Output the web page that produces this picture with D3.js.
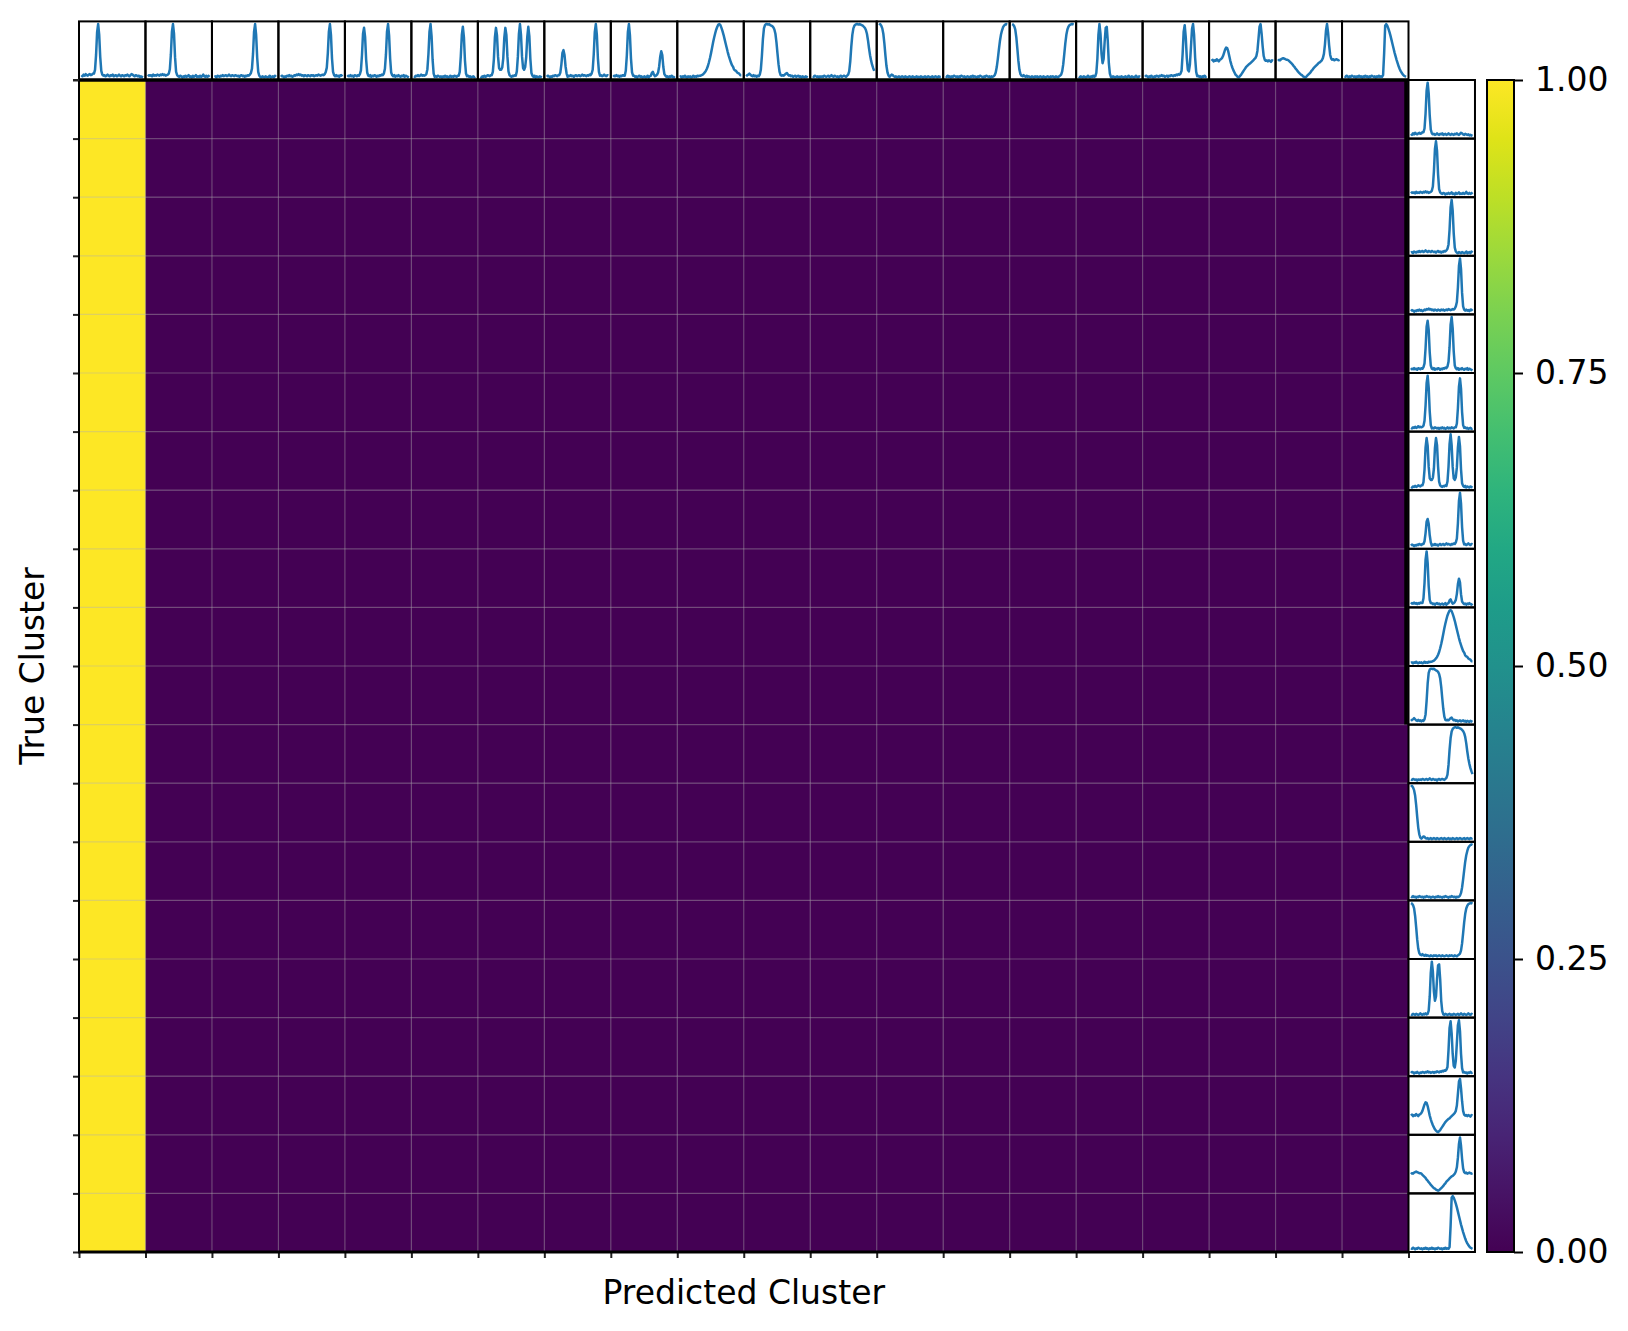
<!DOCTYPE html>
<html><head><meta charset="utf-8">
<script src="https://cdn.jsdelivr.net/npm/d3@7"></script>
<style>body{margin:0;background:#fff;} svg{display:block;font-family:"DejaVu Sans",sans-serif;}</style>
</head><body><svg id="c" width="1628" height="1331"></svg>
<script>
// ---------- data ----------
const clusters = [0,1,2,3,4,5,6,7,8,9,10,11,12,13,14,15,16,17,18,19];
const xLabel = "Predicted Cluster";
const yLabel = "True Cluster";
const colorbarTicks = [0, 0.25, 0.5, 0.75, 1.0];

// row = true cluster, column = predicted cluster (fraction)
const confusion = [
 [1,0,0,0,0,0,0,0,0,0,0,0,0,0,0,0,0,0,0,0],
 [1,0,0,0,0,0,0,0,0,0,0,0,0,0,0,0,0,0,0,0],
 [1,0,0,0,0,0,0,0,0,0,0,0,0,0,0,0,0,0,0,0],
 [1,0,0,0,0,0,0,0,0,0,0,0,0,0,0,0,0,0,0,0],
 [1,0,0,0,0,0,0,0,0,0,0,0,0,0,0,0,0,0,0,0],
 [1,0,0,0,0,0,0,0,0,0,0,0,0,0,0,0,0,0,0,0],
 [1,0,0,0,0,0,0,0,0,0,0,0,0,0,0,0,0,0,0,0],
 [1,0,0,0,0,0,0,0,0,0,0,0,0,0,0,0,0,0,0,0],
 [1,0,0,0,0,0,0,0,0,0,0,0,0,0,0,0,0,0,0,0],
 [1,0,0,0,0,0,0,0,0,0,0,0,0,0,0,0,0,0,0,0],
 [1,0,0,0,0,0,0,0,0,0,0,0,0,0,0,0,0,0,0,0],
 [1,0,0,0,0,0,0,0,0,0,0,0,0,0,0,0,0,0,0,0],
 [1,0,0,0,0,0,0,0,0,0,0,0,0,0,0,0,0,0,0,0],
 [1,0,0,0,0,0,0,0,0,0,0,0,0,0,0,0,0,0,0,0],
 [1,0,0,0,0,0,0,0,0,0,0,0,0,0,0,0,0,0,0,0],
 [1,0,0,0,0,0,0,0,0,0,0,0,0,0,0,0,0,0,0,0],
 [1,0,0,0,0,0,0,0,0,0,0,0,0,0,0,0,0,0,0,0],
 [1,0,0,0,0,0,0,0,0,0,0,0,0,0,0,0,0,0,0,0],
 [1,0,0,0,0,0,0,0,0,0,0,0,0,0,0,0,0,0,0,0],
 [1,0,0,0,0,0,0,0,0,0,0,0,0,0,0,0,0,0,0,0]
];

// cluster profile signals (same profile shown for predicted columns and true rows)
const profile01 = [
 0.04,0.02,0.05,0.03,0.06,0.04,0.03,0.05,0.06,0.04,
 0.05,0.07,0.07,0.14,0.42,0.85,1.00,0.80,0.38,0.12,
 0.05,0.03,0.04,0.02,0.03,0.05,0.03,0.02,0.04,0.03,
 0.05,0.02,0.03,0.04,0.02,0.03,0.05,0.03,0.02,0.04,
 0.03,0.02,0.04,0.03,0.05,0.03,0.02,0.04,0.06,0.05,
 0.03,0.02,0.04,0.03,0.02,0.03,0.01,0.02,0.01,0.00];
const profile02 = [
 0.03,0.05,0.04,0.05,0.03,0.06,0.04,0.05,0.04,0.06,
 0.05,0.04,0.06,0.05,0.07,0.05,0.06,0.04,0.05,0.06,
 0.08,0.16,0.44,0.86,1.00,0.82,0.38,0.11,0.05,0.03,
 0.02,0.04,0.03,0.01,0.03,0.02,0.04,0.02,0.03,0.05,
 0.02,0.03,0.01,0.04,0.02,0.03,0.05,0.02,0.03,0.02,
 0.04,0.02,0.03,0.06,0.03,0.02,0.04,0.02,0.03,0.05];
const profile03 = [
 0.03,0.04,0.02,0.05,0.04,0.03,0.05,0.04,0.06,0.04,
 0.05,0.06,0.04,0.05,0.07,0.05,0.04,0.06,0.05,0.04,
 0.06,0.05,0.04,0.05,0.03,0.05,0.06,0.04,0.05,0.03,
 0.05,0.04,0.06,0.05,0.07,0.10,0.18,0.45,0.86,1.00,
 0.80,0.38,0.12,0.05,0.03,0.02,0.04,0.03,0.02,0.04,
 0.03,0.02,0.03,0.05,0.02,0.03,0.04,0.02,0.05,0.03];
const profile04 = [
 0.02,0.04,0.03,0.01,0.03,0.02,0.04,0.03,0.05,0.03,
 0.04,0.02,0.03,0.05,0.04,0.06,0.05,0.07,0.05,0.06,
 0.04,0.05,0.03,0.05,0.04,0.03,0.05,0.04,0.03,0.05,
 0.04,0.05,0.03,0.04,0.05,0.04,0.06,0.05,0.04,0.05,
 0.06,0.05,0.07,0.11,0.19,0.46,0.86,1.00,0.80,0.36,
 0.11,0.05,0.03,0.05,0.03,0.04,0.02,0.05,0.04,0.06];
const profile05 = [
 0.02,0.04,0.03,0.05,0.03,0.04,0.02,0.05,0.04,0.03,
 0.05,0.04,0.07,0.14,0.42,0.82,0.93,0.76,0.34,0.10,
 0.04,0.03,0.05,0.02,0.04,0.03,0.05,0.04,0.02,0.04,
 0.03,0.05,0.04,0.06,0.05,0.08,0.17,0.44,0.86,1.00,
 0.79,0.36,0.10,0.05,0.03,0.05,0.02,0.04,0.03,0.05,
 0.03,0.02,0.04,0.03,0.05,0.02,0.04,0.03,0.02,0.01];
const profile06 = [
 0.04,0.03,0.05,0.04,0.06,0.04,0.05,0.07,0.05,0.06,
 0.05,0.06,0.08,0.17,0.45,0.86,1.00,0.78,0.34,0.09,
 0.03,0.04,0.03,0.05,0.04,0.03,0.04,0.02,0.04,0.03,
 0.05,0.03,0.04,0.02,0.03,0.05,0.03,0.04,0.03,0.05,
 0.04,0.03,0.05,0.05,0.12,0.40,0.80,0.95,0.76,0.33,
 0.09,0.04,0.05,0.03,0.04,0.02,0.03,0.04,0.02,0.03];
const profile07 = [
 0.03,0.02,0.04,0.03,0.05,0.03,0.04,0.06,0.05,0.04,
 0.06,0.06,0.12,0.35,0.76,0.93,0.79,0.40,0.19,0.16,
 0.16,0.20,0.37,0.75,0.93,0.80,0.40,0.13,0.06,0.04,
 0.03,0.05,0.04,0.06,0.05,0.13,0.40,0.82,1.00,0.80,
 0.40,0.19,0.16,0.21,0.39,0.76,0.95,0.78,0.35,0.10,
 0.05,0.03,0.05,0.02,0.04,0.03,0.02,0.04,0.03,0.02];
const profile08 = [
 0.03,0.05,0.04,0.02,0.04,0.03,0.05,0.04,0.06,0.05,
 0.04,0.06,0.06,0.11,0.26,0.47,0.52,0.43,0.22,0.09,
 0.03,0.05,0.04,0.06,0.04,0.05,0.03,0.05,0.06,0.04,
 0.05,0.06,0.04,0.05,0.07,0.05,0.06,0.05,0.04,0.06,
 0.05,0.07,0.06,0.09,0.16,0.44,0.85,1.00,0.80,0.37,
 0.12,0.05,0.06,0.04,0.05,0.07,0.05,0.04,0.06,0.05];
const profile09 = [
 0.03,0.05,0.04,0.06,0.04,0.05,0.03,0.05,0.04,0.06,
 0.05,0.05,0.14,0.42,0.85,1.00,0.79,0.36,0.11,0.05,
 0.05,0.03,0.04,0.02,0.04,0.05,0.03,0.04,0.02,0.03,
 0.04,0.02,0.03,0.05,0.02,0.04,0.05,0.10,0.12,0.07,
 0.04,0.05,0.07,0.11,0.22,0.40,0.50,0.43,0.21,0.08,
 0.05,0.03,0.04,0.02,0.04,0.03,0.05,0.03,0.02,0.04];
const profile10 = [
 0.02,0.03,0.01,0.03,0.02,0.04,0.02,0.01,0.03,0.02,
 0.03,0.01,0.02,0.04,0.02,0.03,0.02,0.04,0.03,0.04,
 0.04,0.05,0.06,0.08,0.10,0.13,0.17,0.22,0.29,0.37,
 0.46,0.56,0.66,0.75,0.83,0.90,0.95,0.99,1.00,0.98,
 0.93,0.87,0.80,0.72,0.64,0.56,0.48,0.41,0.35,0.29,
 0.24,0.21,0.16,0.14,0.13,0.10,0.09,0.08,0.05,0.05];
const profile11 = [
 0.03,0.05,0.06,0.08,0.06,0.04,0.03,0.05,0.03,0.04,
 0.02,0.04,0.03,0.06,0.15,0.40,0.72,0.92,0.98,1.00,
 1.00,0.99,1.00,0.98,0.97,0.96,0.94,0.90,0.82,0.66,
 0.45,0.25,0.11,0.05,0.04,0.05,0.04,0.06,0.08,0.09,
 0.06,0.04,0.05,0.03,0.04,0.02,0.03,0.04,0.02,0.03,
 0.04,0.02,0.03,0.01,0.03,0.02,0.01,0.03,0.02,0.01];
const profile12 = [
 0.03,0.02,0.04,0.03,0.02,0.03,0.01,0.03,0.02,0.03,
 0.02,0.04,0.03,0.02,0.03,0.04,0.02,0.03,0.05,0.03,
 0.02,0.04,0.03,0.02,0.03,0.01,0.03,0.04,0.02,0.03,
 0.04,0.03,0.02,0.04,0.06,0.12,0.30,0.58,0.80,0.92,
 0.97,0.99,1.00,1.00,0.99,1.00,0.99,0.98,0.97,0.95,
 0.93,0.89,0.82,0.70,0.55,0.42,0.32,0.24,0.18,0.13];
const profile13 = [
 0.98,1.00,0.97,0.92,0.82,0.64,0.42,0.22,0.10,0.04,
 0.02,0.04,0.06,0.05,0.03,0.02,0.03,0.01,0.02,0.03,
 0.01,0.02,0.03,0.02,0.01,0.03,0.02,0.01,0.02,0.03,
 0.02,0.01,0.03,0.02,0.01,0.02,0.03,0.01,0.02,0.01,
 0.03,0.02,0.01,0.02,0.03,0.01,0.02,0.03,0.02,0.01,
 0.02,0.03,0.01,0.02,0.03,0.02,0.01,0.03,0.02,0.03];
const profile14 = [
 0.03,0.02,0.04,0.02,0.03,0.01,0.03,0.02,0.04,0.03,
 0.02,0.03,0.01,0.03,0.02,0.04,0.03,0.02,0.03,0.01,
 0.02,0.03,0.02,0.01,0.03,0.02,0.04,0.02,0.03,0.02,
 0.01,0.03,0.02,0.04,0.03,0.02,0.01,0.03,0.02,0.04,
 0.03,0.02,0.03,0.01,0.03,0.02,0.03,0.05,0.10,0.20,
 0.35,0.52,0.68,0.80,0.88,0.94,0.97,0.99,1.00,0.99];
const profile15 = [
 1.00,0.99,0.96,0.90,0.76,0.55,0.32,0.15,0.07,0.04,
 0.03,0.05,0.03,0.02,0.04,0.02,0.03,0.02,0.01,0.03,
 0.02,0.01,0.03,0.02,0.03,0.01,0.02,0.03,0.02,0.01,
 0.03,0.02,0.01,0.02,0.03,0.02,0.01,0.03,0.02,0.03,
 0.02,0.01,0.03,0.02,0.01,0.03,0.04,0.06,0.12,0.25,
 0.44,0.64,0.80,0.90,0.95,0.98,0.99,1.00,1.00,0.99];
const profile16 = [
 0.03,0.02,0.04,0.03,0.02,0.04,0.03,0.02,0.03,0.05,
 0.03,0.02,0.04,0.03,0.05,0.03,0.04,0.10,0.36,0.80,
 1.00,0.82,0.45,0.28,0.36,0.68,0.93,0.95,0.68,0.28,
 0.09,0.03,0.02,0.04,0.03,0.02,0.03,0.04,0.02,0.03,
 0.02,0.04,0.03,0.02,0.03,0.04,0.02,0.03,0.05,0.03,
 0.02,0.04,0.03,0.02,0.03,0.05,0.03,0.02,0.04,0.03];
const profile17 = [
 0.03,0.05,0.04,0.02,0.04,0.03,0.05,0.03,0.02,0.04,
 0.03,0.05,0.04,0.03,0.05,0.04,0.06,0.04,0.05,0.03,
 0.04,0.05,0.03,0.05,0.04,0.06,0.05,0.04,0.06,0.05,
 0.07,0.06,0.08,0.07,0.09,0.14,0.45,0.86,0.98,0.76,
 0.38,0.16,0.13,0.26,0.58,0.91,1.00,0.80,0.38,0.12,
 0.04,0.05,0.03,0.04,0.02,0.04,0.03,0.05,0.03,0.04];
const profile18 = [
 0.31,0.33,0.30,0.32,0.31,0.34,0.32,0.30,0.33,0.34,
 0.36,0.40,0.46,0.52,0.56,0.55,0.49,0.40,0.31,0.24,
 0.18,0.13,0.09,0.05,0.03,0.01,0.00,0.02,0.04,0.07,
 0.10,0.13,0.16,0.19,0.21,0.23,0.25,0.26,0.28,0.30,
 0.32,0.34,0.36,0.40,0.50,0.72,0.95,1.00,0.82,0.58,
 0.40,0.33,0.31,0.32,0.30,0.32,0.31,0.29,0.32,0.31];
const profile19 = [
 0.31,0.33,0.32,0.34,0.35,0.36,0.35,0.34,0.33,0.33,
 0.32,0.30,0.28,0.26,0.24,0.21,0.19,0.16,0.14,0.11,
 0.09,0.07,0.05,0.04,0.02,0.01,0.00,0.01,0.03,0.05,
 0.07,0.09,0.12,0.14,0.17,0.19,0.21,0.23,0.25,0.27,
 0.28,0.30,0.32,0.36,0.44,0.62,0.88,1.00,0.84,0.60,
 0.42,0.35,0.33,0.34,0.32,0.33,0.34,0.33,0.32,0.33];
const profile20 = [
 0.03,0.02,0.04,0.03,0.01,0.03,0.02,0.04,0.03,0.02,
 0.03,0.01,0.03,0.02,0.04,0.02,0.03,0.01,0.03,0.02,
 0.04,0.02,0.03,0.01,0.03,0.02,0.04,0.03,0.02,0.03,
 0.01,0.03,0.02,0.04,0.02,0.03,0.02,0.05,0.45,0.97,
 1.00,0.97,0.92,0.86,0.79,0.71,0.63,0.55,0.47,0.40,
 0.33,0.27,0.21,0.16,0.12,0.09,0.06,0.04,0.03,0.02];

const profiles = [profile01,profile02,profile03,profile04,profile05,profile06,profile07,
  profile08,profile09,profile10,profile11,profile12,profile13,profile14,profile15,
  profile16,profile17,profile18,profile19,profile20];

// ---------- layout ----------
const L = 79, R = 1408.5, T = 80, B = 1252;
const svg = d3.select("#c");

const x = d3.scaleBand().domain(clusters).range([L, R]);
const y = d3.scaleBand().domain(clusters).range([T, B]);
const xb = d3.scaleLinear().domain([0, clusters.length]).range([L, R]);
const yb = d3.scaleLinear().domain([0, clusters.length]).range([T, B]);
const color = d3.scaleSequential(d3.interpolateViridis).domain([0, 1]);

// heatmap cells
const cells = [];
confusion.forEach((row, i) => row.forEach((v, j) => cells.push({i, j, v})));
svg.append("g").selectAll("rect").data(cells).join("rect")
  .attr("x", d => x(clusters[d.j])).attr("y", d => y(clusters[d.i]))
  .attr("width", x.bandwidth() + 0.5).attr("height", y.bandwidth() + 0.5)
  .attr("fill", d => color(d.v));

// grid
const grid = svg.append("g").attr("stroke", "#b0b0b0").attr("stroke-opacity", 0.4).attr("stroke-width", 1.2);
d3.range(1, clusters.length).forEach(k => {
  grid.append("line").attr("x1", xb(k)).attr("x2", xb(k)).attr("y1", T).attr("y2", B);
  grid.append("line").attr("y1", yb(k)).attr("y2", yb(k)).attr("x1", L).attr("x2", R);
});

// axes (ticks only)
const ax = svg.append("g").attr("transform", `translate(0,${B})`)
  .call(d3.axisBottom(xb).tickValues(d3.range(clusters.length + 1)).tickSize(6).tickFormat(""));
const ay = svg.append("g").attr("transform", `translate(${L},0)`)
  .call(d3.axisLeft(yb).tickValues(d3.range(clusters.length + 1)).tickSize(6).tickFormat(""));
[ax, ay].forEach(a => {
  a.select(".domain").remove();
  a.selectAll(".tick line").attr("stroke", "#222").attr("stroke-width", 2);
});

// spines
const sp = svg.append("g").attr("stroke", "#000");
sp.append("line").attr("x1", L).attr("x2", L).attr("y1", T).attr("y2", B).attr("stroke-width", 2);
sp.append("line").attr("x1", L - 1).attr("x2", R).attr("y1", B).attr("y2", B).attr("stroke-width", 3);
sp.append("line").attr("x1", 1406).attr("x2", 1406).attr("y1", T).attr("y2", yb(11)).attr("stroke-width", 3.5);

// mini profile plots
function miniPlot(data, x0, y0, w, h) {
  const n = data.length;
  const ext = d3.extent(data);
  const pad = (ext[1] - ext[0]) * 0.05;
  const sx = d3.scaleLinear().domain([-(n - 1) * 0.04, (n - 1) * 1.04]).range([x0, x0 + w]);
  const sy = d3.scaleLinear().domain([ext[0] - pad, ext[1] + pad]).range([y0 + h, y0]);
  const g = svg.append("g");
  g.append("path").datum(data)
    .attr("d", d3.line().x((d, i) => sx(i)).y(d => sy(d)))
    .attr("fill", "none").attr("stroke", "#1f77b4").attr("stroke-width", 2.5)
    .attr("stroke-linejoin", "round");
  g.append("rect").attr("x", x0).attr("y", y0).attr("width", w).attr("height", h)
    .attr("fill", "none").attr("stroke", "#000").attr("stroke-width", 2);
}
const cw = x.bandwidth(), rh = y.bandwidth();
clusters.forEach((c, j) => miniPlot(profiles[j], x(c), T - rh, cw, rh));
clusters.forEach((c, i) => miniPlot(profiles[i], R, y(c), cw, rh));

// heatmap top spine (over mini plots)
svg.append("line").attr("x1", L - 1).attr("x2", R).attr("y1", T).attr("y2", T)
  .attr("stroke", "#000").attr("stroke-width", 3.5);
// left tick at top
svg.append("line").attr("x1", L - 6).attr("x2", L).attr("y1", T).attr("y2", T).attr("stroke", "#222").attr("stroke-width", 2);

// colorbar
const cbX = 1487, cbW = 27;
const cb = d3.scaleLinear().domain([0, 1]).range([B, T]);
const defs = svg.append("defs");
const grad = defs.append("linearGradient").attr("id", "vir").attr("x1", 0).attr("y1", 1).attr("x2", 0).attr("y2", 0);
d3.range(0, 1.0001, 0.05).forEach(t => grad.append("stop").attr("offset", t).attr("stop-color", color(t)));
svg.append("rect").attr("x", cbX).attr("y", T).attr("width", cbW).attr("height", B - T).attr("fill", "url(#vir)");
svg.append("rect").attr("x", cbX).attr("y", T).attr("width", cbW).attr("height", B - T)
  .attr("fill", "none").attr("stroke", "#000").attr("stroke-width", 2);
const cax = svg.append("g").attr("transform", `translate(${cbX + cbW},0)`)
  .call(d3.axisRight(cb).tickValues(colorbarTicks).tickSize(9).tickPadding(12).tickFormat(d3.format(".2f")));
cax.select(".domain").remove();
cax.selectAll(".tick line").attr("stroke", "#000").attr("stroke-width", 2);
cax.selectAll(".tick text").attr("font-size", 33).attr("fill", "#000").attr("font-family", "DejaVu Sans");

// labels
svg.append("text").attr("x", (L + R) / 2).attr("y", 1304).attr("text-anchor", "middle")
  .attr("font-size", 33).text(xLabel);
svg.append("text").attr("transform", `translate(44,${(T + B) / 2}) rotate(-90)`).attr("text-anchor", "middle")
  .attr("font-size", 33).text(yLabel);
</script></body></html>
